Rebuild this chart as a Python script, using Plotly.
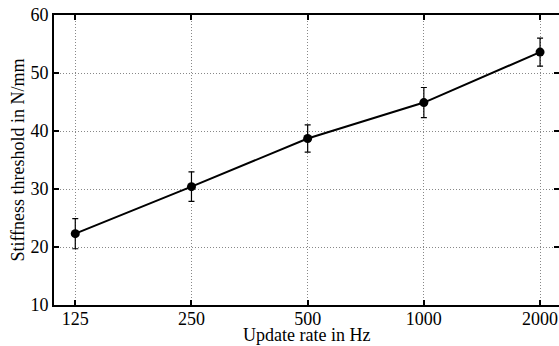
import plotly.graph_objects as go

rates = [125, 250, 500, 1000, 2000]
tick_labels = ["125", "250", "500", "1000", "2000"]
stiffness = [22.3, 30.4, 38.7, 44.9, 53.6]
err = [2.6, 2.55, 2.35, 2.6, 2.4]
y_ticks = [10, 20, 30, 40, 50, 60]
x_title = "Update rate in Hz"
y_title = "Stiffness threshold in N/mm"

fig = go.Figure()
fig.add_trace(go.Scatter(
    x=rates, y=stiffness, mode="lines+markers",
    line=dict(color="black", width=2),
    marker=dict(color="black", size=9),
    error_y=dict(type="data", array=err, visible=True, color="black", thickness=1.2, width=3),
    showlegend=False, hoverinfo="skip",
))

font = dict(family="Liberation Serif, Times New Roman, serif", size=18, color="black")

fig.update_layout(
    width=559, height=346,
    margin=dict(l=54, r=0, t=15, b=41, autoexpand=False),
    paper_bgcolor="white", plot_bgcolor="white",
    font=font,
)
fig.add_annotation(
    text=x_title, xref="paper", yref="paper", x=0.5, y=0,
    xanchor="center", yanchor="middle", yshift=-30,
    showarrow=False, font=font,
)
fig.update_xaxes(
    type="log", range=[2.0418, 3.3501],
    tickvals=rates, ticktext=tick_labels,
    showline=True, linecolor="black", linewidth=2, mirror="ticks",
    ticks="inside", ticklen=5, tickwidth=2, tickcolor="black",
    ticklabelstandoff=-4,
    showgrid=True, gridcolor="#888888", griddash="1px,2px", gridwidth=1,
    zeroline=False, automargin=False,
    tickfont=font,
)
fig.update_yaxes(
    range=[10, 60], tickvals=y_ticks,
    showline=True, linecolor="black", linewidth=2, mirror="ticks",
    ticks="inside", ticklen=5, tickwidth=2, tickcolor="black",
    showgrid=True, gridcolor="#888888", griddash="1px,2px", gridwidth=1,
    zeroline=False, automargin=False,
    title=dict(text=y_title, standoff=1, font=font),
    tickfont=font,
)
fig.write_html("out.html", config={"displayModeBar": False},
               post_script="document.body.style.margin='0';")
